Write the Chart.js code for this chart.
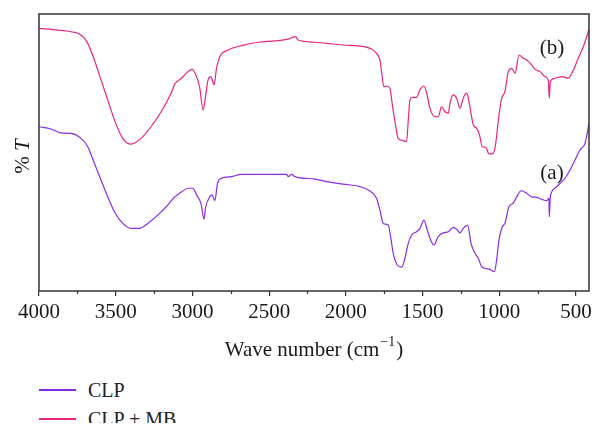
<!DOCTYPE html>
<html>
<head>
<meta charset="utf-8">
<script src="https://cdn.jsdelivr.net/npm/chart.js@4.4.1/dist/chart.umd.min.js"></script>
<style>
    html, body { margin: 0; padding: 0; background: #fff; }
    body { width: 604px; height: 438px; position: relative; overflow: hidden; }
    #wrap { position: absolute; left: 0; top: 0; width: 604px; height: 370px; }
    #legend { position: absolute; left: 0; top: 370px; width: 604px; height: 53px; overflow: hidden;
              font-family: "Liberation Serif", serif; font-size: 20px; color: #222; }
    .item { position: absolute; left: 39px; height: 24px; }
    .item .swatch { position: absolute; left: 0; top: 11px; width: 37px; height: 2px; }
    .item .txt { position: absolute; left: 49px; top: 0; line-height: 24px; white-space: nowrap; }
</style>
</head>
<body>
<div id="wrap"><canvas id="ftir" width="604" height="370"></canvas></div>
<div id="legend"></div>
<script>
// Espectro (a) CLP
const waveA = [4000, 3922, 3857, 3791, 3726, 3682, 3639, 3596, 3552, 3508, 3454, 3400, 3345, 3291, 3226, 3161, 3115, 3071, 3028, 2996,
    2973, 2945, 2924, 2915, 2887, 2872, 2854, 2836, 2810, 2745, 2680, 2572, 2463, 2386, 2376, 2354, 2332, 2202, 2126, 2017,
    1908, 1843, 1800, 1778, 1756, 1724, 1708, 1691, 1665, 1636, 1615, 1593, 1571, 1539, 1517, 1491, 1469, 1447, 1426, 1398,
    1365, 1332, 1300, 1278, 1256, 1235, 1206, 1184, 1158, 1137, 1115, 1093, 1060, 1032, 1017, 1002, 980, 963, 937, 909,
    886, 858, 821, 789, 756, 723, 691, 676, 674, 667, 637, 604, 571, 539, 506, 474, 441, 415];
const transA = [59.3, 58.5, 57.1, 56.9, 55.1, 52.1, 46.1, 40.1, 34.0, 28.6, 24.4, 22.6, 22.6, 24.4, 27.4, 31.0, 34.0, 35.8, 37.1, 37.1,
    34.7, 31.7, 25.9, 29.9, 34.0, 34.7, 32.6, 38.9, 40.7, 41.3, 42.1, 42.1, 42.1, 42.1, 41.3, 42.1, 41.3, 40.4, 39.5, 38.6,
    37.7, 36.1, 33.5, 29.2, 24.4, 23.8, 19.6, 13.6, 9.4, 8.6, 11.8, 17.2, 20.2, 21.4, 22.6, 25.6, 22.0, 18.4, 16.6, 19.6,
    21.0, 21.4, 23.0, 22.3, 21.0, 22.6, 23.8, 17.2, 13.6, 11.8, 8.8, 8.2, 7.8, 7.0, 11.2, 18.4, 23.2, 24.4, 30.4, 31.7,
    34.0, 36.2, 35.3, 34.0, 33.8, 33.1, 32.6, 33.5, 26.8, 34.0, 37.1, 38.9, 40.7, 43.7, 47.3, 50.9, 53.3, 60.5];

// Espectro (b) CLP + MB
const waveB = [4000, 3878, 3791, 3726, 3682, 3639, 3596, 3552, 3508, 3454, 3400, 3335, 3270, 3204, 3139, 3115, 3071, 3028, 3002, 2973,
    2952, 2930, 2915, 2898, 2880, 2859, 2843, 2821, 2767, 2680, 2572, 2463, 2376, 2328, 2311, 2202, 2126, 2017, 1908, 1843,
    1800, 1778, 1767, 1752, 1730, 1713, 1695, 1674, 1659, 1626, 1604, 1593, 1582, 1565, 1539, 1517, 1491, 1473, 1452, 1419,
    1398, 1376, 1354, 1332, 1321, 1300, 1278, 1256, 1235, 1212, 1191, 1169, 1147, 1126, 1111, 1089, 1067, 1039, 1023, 1006,
    984, 963, 941, 919, 897, 871, 843, 821, 789, 767, 734, 702, 680, 674, 667, 637, 593, 550, 517, 485, 452, 415];
const transB = [94.8, 94.2, 93.6, 92.4, 89.4, 83.4, 76.2, 69.0, 61.7, 55.1, 53.0, 55.1, 59.3, 64.7, 71.4, 74.7, 76.8, 79.2, 80.0, 77.4,
    73.2, 65.3, 70.1, 76.2, 77.4, 74.4, 80.4, 84.6, 87.0, 88.6, 89.8, 90.3, 90.9, 91.8, 90.6, 89.8, 89.4, 88.8, 88.4, 87.6,
    85.8, 83.4, 79.2, 73.8, 74.0, 73.2, 66.5, 59.3, 55.1, 54.3, 53.9, 61.7, 69.0, 69.9, 69.9, 72.6, 74.0, 71.4, 66.0, 62.9,
    62.9, 66.5, 64.7, 64.2, 67.8, 70.8, 69.6, 66.0, 69.6, 71.4, 66.5, 59.9, 58.7, 55.7, 52.1, 51.9, 49.5, 49.7, 53.3, 61.7,
    69.6, 72.0, 79.2, 80.4, 78.6, 85.2, 84.0, 83.4, 81.6, 80.0, 79.2, 77.4, 75.9, 69.6, 75.6, 76.8, 77.4, 76.8, 79.8, 84.0,
    88.2, 94.5];

const seriesNames = ['CLP', 'CLP + MB'];
const curveTags = ['(a)', '(b)'];
const tagPos = [[656, 42.6], [656, 87.7]];
const xTicks = [4000, 3500, 3000, 2500, 2000, 1500, 1000, 500];
const xMinorTicks = [3750, 3250, 2750, 2250, 1750, 1250, 750];
const colors = ['#8a2be2', '#e8247f'];

const serif = '"Liberation Serif", serif';

function toPoints(xs, ys) {
    return xs.map((x, i) => ({ x: x, y: ys[i] }));
}

// Moldura, ticks menores e textos extras
const extras = {
    id: 'extras',
    afterDraw(chart) {
        const ctx = chart.ctx;
        const a = chart.chartArea;
        const xs = chart.scales.x;
        const ys = chart.scales.y;
        ctx.save();

        ctx.strokeStyle = '#333';
        ctx.lineWidth = 1.5;
        ctx.strokeRect(a.left, a.top, a.right - a.left, a.bottom - a.top);

        ctx.lineWidth = 1.2;
        xMinorTicks.forEach(v => {
            const px = Math.round(xs.getPixelForValue(v)) + 0.5;
            ctx.beginPath();
            ctx.moveTo(px, a.bottom);
            ctx.lineTo(px, a.bottom + 3);
            ctx.stroke();
        });

        ctx.fillStyle = '#1a1a1a';
        ctx.textBaseline = 'middle';

        // (a) e (b)
        ctx.font = '21px ' + serif;
        ctx.textAlign = 'center';
        curveTags.forEach((t, i) => {
            ctx.fillText(t, xs.getPixelForValue(tagPos[i][0]), ys.getPixelForValue(tagPos[i][1]));
        });

        // titulo do eixo x com sobrescrito
        const cx = (a.left + a.right) / 2;
        const ty = 350;
        const big = '21px ' + serif;
        const small = '14px ' + serif;
        ctx.font = big;
        const w1 = ctx.measureText('Wave number (cm').width;
        const w3 = ctx.measureText(')').width;
        ctx.font = small;
        const w2 = ctx.measureText('\u22121').width + 2;
        let x0 = cx - (w1 + w2 + w3) / 2;
        ctx.textAlign = 'left';
        ctx.font = big;
        ctx.fillText('Wave number (cm', x0, ty);
        ctx.font = small;
        ctx.fillText('\u22121', x0 + w1 + 1, ty - 8);
        ctx.font = big;
        ctx.fillText(')', x0 + w1 + w2, ty);

        // titulo do eixo y
        ctx.translate(23, (a.top + a.bottom) / 2 + 4);
        ctx.rotate(-Math.PI / 2);
        ctx.font = big;
        const p1 = '% ';
        const wp = ctx.measureText(p1).width;
        ctx.font = 'italic 21px ' + serif;
        const wt = ctx.measureText('T').width;
        ctx.font = big;
        ctx.fillText(p1, -(wp + wt) / 2, 0);
        ctx.font = 'italic 21px ' + serif;
        ctx.fillText('T', -(wp + wt) / 2 + wp, 0);

        ctx.restore();
    }
};

const ftirChart = new Chart(document.getElementById('ftir').getContext('2d'), {
    type: 'line',
    data: {
        datasets: [
            { label: seriesNames[0], data: toPoints(waveA, transA), borderColor: colors[0], borderWidth: 1.2, pointRadius: 0, cubicInterpolationMode: 'monotone', fill: false },
            { label: seriesNames[1], data: toPoints(waveB, transB), borderColor: colors[1], borderWidth: 1.2, pointRadius: 0, cubicInterpolationMode: 'monotone', fill: false }
        ]
    },
    options: {
        responsive: false,
        animation: false,
        events: [],
        layout: { padding: { left: 0, top: 14, right: 15, bottom: 0 } },
        plugins: { legend: { display: false }, tooltip: { enabled: false } },
        scales: {
            x: {
                type: 'linear',
                reverse: true,
                min: 415,
                max: 4000,
                afterBuildTicks: scale => { scale.ticks = xTicks.map(v => ({ value: v })); },
                afterFit: scale => { scale.height = 79; },
                grid: { drawOnChartArea: false, drawTicks: true, tickLength: 5, color: '#333', lineWidth: 1.2 },
                border: { display: false },
                ticks: {
                    color: '#1a1a1a',
                    font: { family: serif, size: 21 },
                    padding: 4,
                    maxRotation: 0,
                    autoSkip: false,
                    callback: v => String(v)
                }
            },
            y: {
                min: 0,
                max: 100,
                afterFit: scale => { scale.width = 39; },
                grid: { display: false },
                border: { display: false },
                ticks: { display: false }
            }
        }
    },
    plugins: [extras]
});

// Legenda em HTML
const legend = document.getElementById('legend');
seriesNames.forEach((name, i) => {
    const item = document.createElement('div');
    item.className = 'item';
    item.style.top = (8 + i * 29) + 'px';
    item.innerHTML = '<span class="swatch" style="background:' + colors[i] + '"></span><span class="txt">' + name + '</span>';
    legend.appendChild(item);
});
</script>
</body>
</html>
